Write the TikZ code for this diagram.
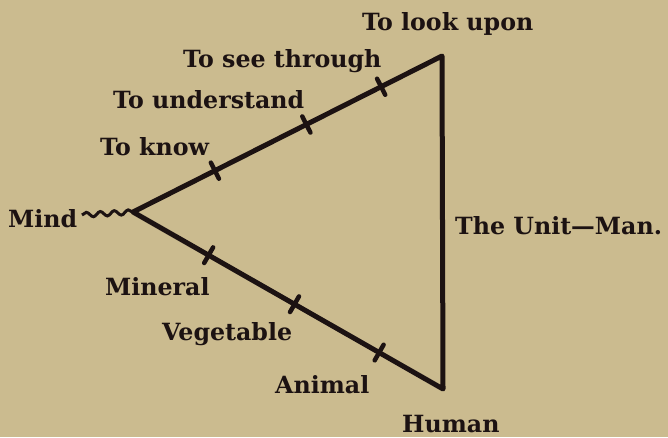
\documentclass[tikz,border=0pt]{standalone}
\usepackage{fontspec}
\setmainfont{DejaVu Serif}
\usetikzlibrary{calc,decorations.pathmorphing}
\definecolor{paper}{RGB}{203,187,143}
\definecolor{ink}{RGB}{28,18,18}
\tikzset{
  lbl/.style={anchor=base west, inner sep=0pt, text=ink, font=\fontsize{23.7}{26}\selectfont\bfseries},
  side/.style={draw=ink, line width=5pt, line cap=round, line join=round},
  tickmark/.style={draw=ink, line width=4.5pt, line cap=round},
  wave/.style={draw=ink, line width=3pt, decorate, decoration={snake, amplitude=2.4pt, segment length=14pt}}
}
\begin{document}
\begin{tikzpicture}[x=1pt,y=-1pt]
\useasboundingbox (0,0) rectangle (668,437);
\fill[paper] (0,0) rectangle (668,437);
% vertices
\coordinate (m) at (133,212);
\coordinate (top) at (442,56);
\coordinate (bot) at (443,389);
% labels
\node[lbl] (mind) at (8,227) {Mind};
\node[lbl] (look) at (362,30) {To look upon};
\node[lbl] (see) at (183,67) {To see through};
\node[lbl] (und) at (113,108) {To understand};
\node[lbl] (know) at (100,155) {To know};
\node[lbl] (unit) at (455,234) {The Unit—Man.};
\node[lbl] (min) at (105,295) {Mineral};
\node[lbl] (veg) at (162,340) {Vegetable};
\node[lbl] (ani) at (275,393) {Animal};
\node[lbl] (hum) at (402,432) {Human};
% wavy line from Mind
\coordinate (w) at (82,215);
\draw[wave] (w) -- (m);
% triangle
\draw[side] (m) -- (top) -- (bot) -- cycle;
% ticks on upper side
\foreach \p/\n in {0.265/a,0.561/b,0.803/c}{
  \coordinate (u\n) at ($(m)!\p!(top)$);
  \draw[tickmark] ($(u\n)!9pt!90:(top)$) -- ($(u\n)!9pt!-90:(top)$);
}
% ticks on lower side
\foreach \p/\n in {0.244/a,0.521/b,0.794/c}{
  \coordinate (l\n) at ($(m)!\p!(bot)$);
  \draw[tickmark] ($(l\n)!9pt!90:(bot)$) -- ($(l\n)!9pt!-90:(bot)$);
}
\end{tikzpicture}
\end{document}
